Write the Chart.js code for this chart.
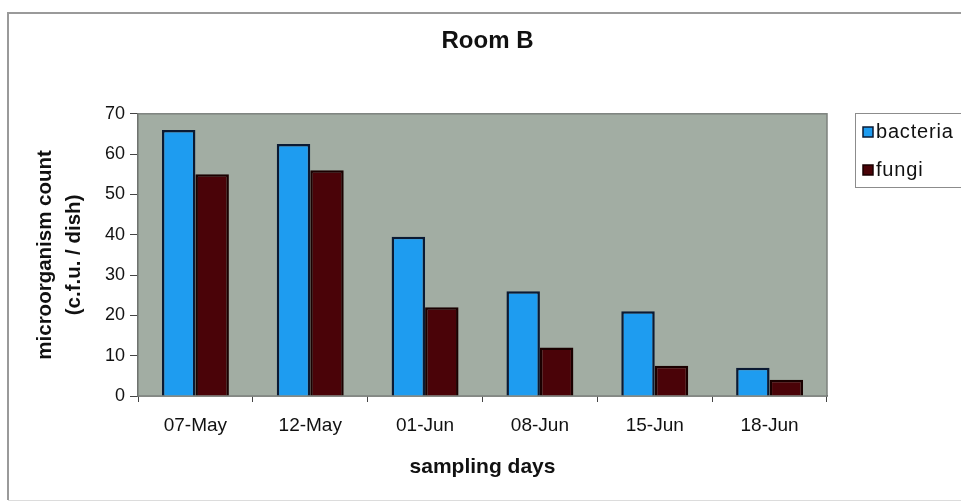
<!DOCTYPE html>
<html>
<head>
<meta charset="utf-8">
<script src="https://cdn.jsdelivr.net/npm/chart.js@4/dist/chart.umd.min.js"></script>
<style>
  html, body { margin: 0; padding: 0; background: #ffffff; }
  #wrap { width: 961px; height: 504px; position: relative; }
</style>
</head>
<body>
<div id="wrap"><canvas id="chart"></canvas></div>
<script>
// Sampling days and colony counts per dish
const samplingDays = ['07-May', '12-May', '01-Jun', '08-Jun', '15-Jun', '18-Jun'];
const bacteria = [66, 62.5, 39.5, 26, 21, 7];
const fungi = [55, 56, 22, 12, 7.5, 4];
const yMin = 0;
const yMax = 70;
const yStep = 10;

const FONT = "'Liberation Sans', Arial, sans-serif";
const TEXT = '#111111';

// Grey plot area with a thin frame
const plotBackground = {
  id: 'plotBackground',
  beforeDatasetsDraw(chart) {
    const { ctx, chartArea: a } = chart;
    ctx.save();
    ctx.fillStyle = '#a2ada3';
    ctx.fillRect(a.left, a.top, a.right - a.left, a.bottom - a.top);
    ctx.strokeStyle = '#7d827e';
    ctx.lineWidth = 1.5;
    ctx.strokeRect(a.left, a.top, a.right - a.left, a.bottom - a.top);
    ctx.restore();
  }
};

// Outer chart frame and boxed legend built from the datasets
const frameAndLegend = {
  id: 'frameAndLegend',
  afterDraw(chart) {
    const { ctx } = chart;
    ctx.save();
    ctx.strokeStyle = '#9a9a9a';
    ctx.lineWidth = 2;
    ctx.beginPath();
    ctx.moveTo(970, 13);
    ctx.lineTo(8, 13);
    ctx.lineTo(8, 500);
    ctx.stroke();
    ctx.strokeStyle = '#dcdcdc';
    ctx.lineWidth = 1;
    ctx.beginPath();
    ctx.moveTo(8, 500.5);
    ctx.lineTo(970, 500.5);
    ctx.stroke();

    const box = { x: 855.5, y: 113.5, w: 120, h: 74 };
    ctx.fillStyle = '#ffffff';
    ctx.fillRect(box.x, box.y, box.w, box.h);
    ctx.strokeStyle = '#8c8c8c';
    ctx.lineWidth = 1;
    ctx.strokeRect(box.x, box.y, box.w, box.h);

    ctx.font = '20px ' + FONT;
    ctx.textBaseline = 'middle';
    ctx.textAlign = 'left';
    if ('letterSpacing' in ctx) ctx.letterSpacing = '0.8px';
    chart.data.datasets.forEach((ds, i) => {
      const cy = 132 + i * 38;
      ctx.fillStyle = ds.backgroundColor;
      ctx.fillRect(863, cy - 5, 10, 10);
      ctx.strokeStyle = ds.borderColor;
      ctx.lineWidth = 1.5;
      ctx.strokeRect(863, cy - 5, 10, 10);
      ctx.fillStyle = TEXT;
      ctx.fillText(ds.label, 876, cy);
    });
    ctx.restore();
  }
};

new Chart(document.getElementById('chart'), {
  type: 'bar',
  data: {
    labels: samplingDays,
    datasets: [
      {
        label: 'bacteria',
        data: bacteria,
        backgroundColor: '#1e9cf0',
        borderColor: '#0b1a33',
        borderWidth: 2.5
      },
      {
        label: 'fungi',
        data: fungi,
        backgroundColor: '#4a0308',
        borderColor: '#1a0000',
        borderWidth: 2.5
      }
    ]
  },
  options: {
    responsive: true,
    maintainAspectRatio: false,
    animation: false,
    devicePixelRatio: 1,
    layout: { padding: { left: 14, right: 0, top: 0, bottom: 0 } },
    datasets: {
      bar: { categoryPercentage: 0.583, barPercentage: 1.0 }
    },
    plugins: {
      legend: { display: false },
      tooltip: { enabled: false },
      title: {
        display: true,
        text: 'Room B',
        color: TEXT,
        font: { family: FONT, size: 24, weight: 'bold', lineHeight: 1.2 },
        padding: { top: 27, bottom: 58 }
      }
    },
    scales: {
      x: {
        grid: {
          display: true,
          drawOnChartArea: false,
          drawTicks: true,
          tickLength: 6,
          color: '#444444',
          offset: true
        },
        border: { display: true, color: '#444444', width: 1.5 },
        ticks: {
          color: TEXT,
          font: { family: FONT, size: 19 },
          padding: 12,
          maxRotation: 0
        },
        title: {
          display: true,
          text: 'sampling days',
          color: TEXT,
          font: { family: FONT, size: 21, weight: 'bold', lineHeight: 1.2 },
          padding: { top: 0, bottom: 24 }
        },
        afterFit(scale) { scale.height = 108; }
      },
      y: {
        min: yMin,
        max: yMax,
        grid: {
          display: true,
          drawOnChartArea: false,
          drawTicks: true,
          tickLength: 8,
          color: '#444444'
        },
        border: { display: true, color: '#444444', width: 1.5 },
        ticks: {
          stepSize: yStep,
          color: TEXT,
          font: { family: FONT, size: 18 },
          padding: 5
        },
        title: {
          display: true,
          text: ['microorganism count', '(c.f.u. / dish)'],
          color: TEXT,
          font: { family: FONT, size: 20.5, weight: 'bold', lineHeight: 1.42 },
          padding: { top: 17, bottom: 0 }
        },
        afterFit(scale) { scale.width = 124; }
      },
      legendSpace: {
        type: 'linear',
        position: 'right',
        display: true,
        grid: { display: false, drawTicks: false },
        border: { display: false },
        ticks: { display: false },
        afterFit(scale) { scale.width = 134; }
      }
    }
  },
  plugins: [plotBackground, frameAndLegend]
});
</script>
</body>
</html>
